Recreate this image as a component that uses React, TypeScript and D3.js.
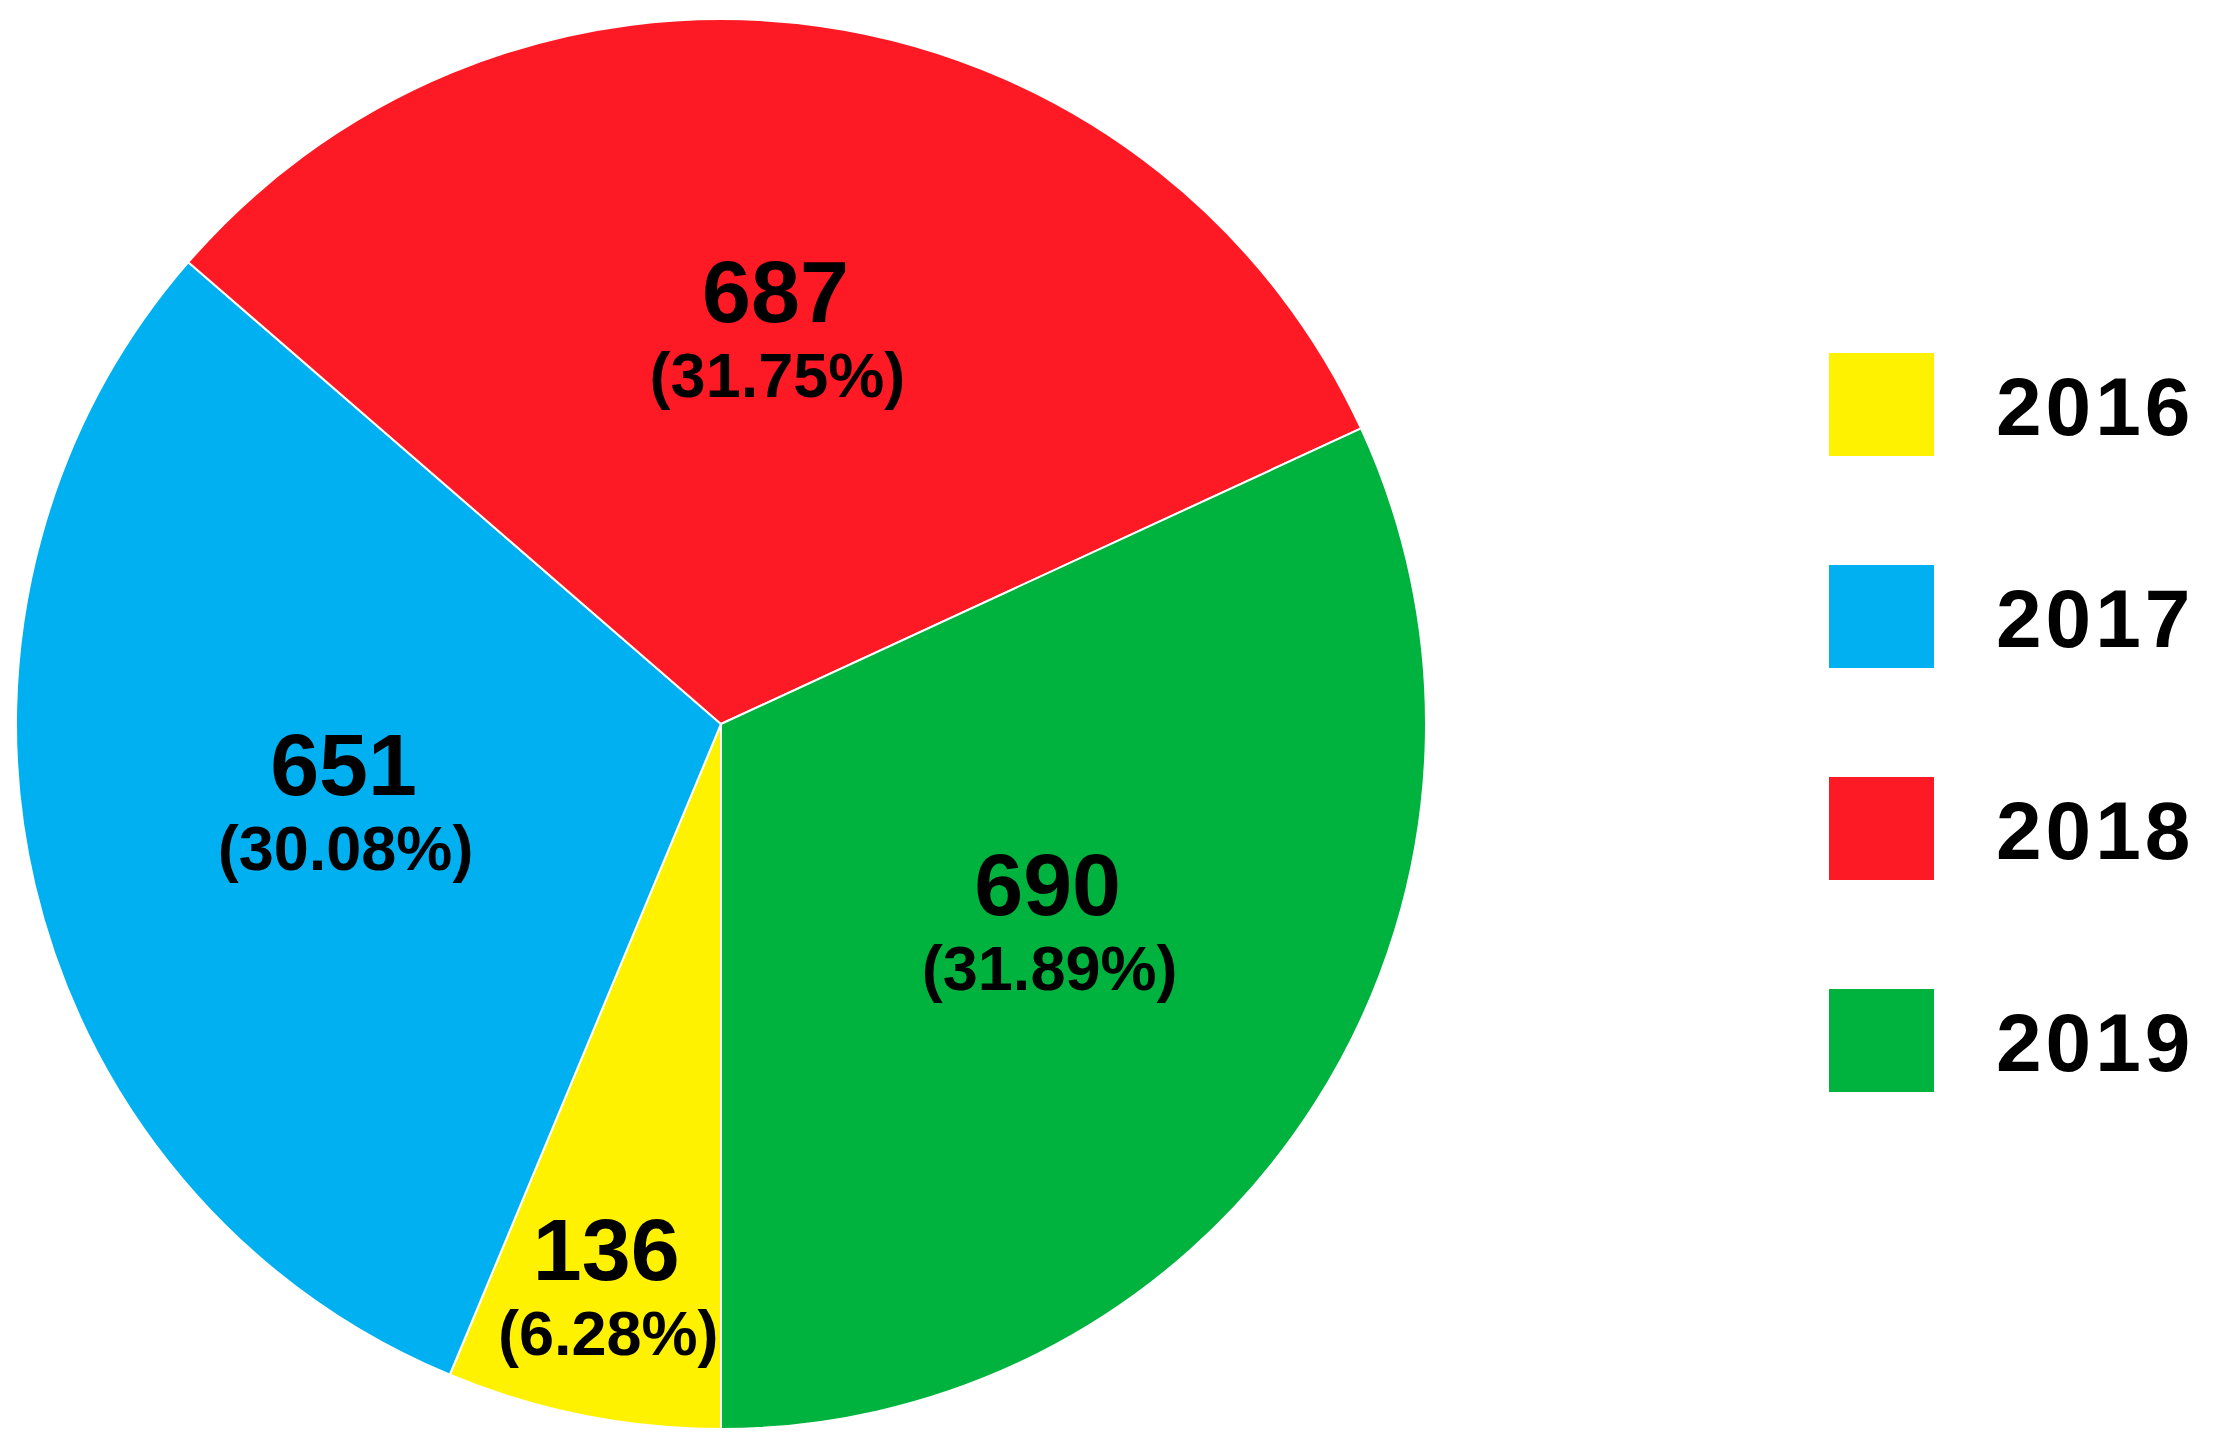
import { useMemo } from "react";
import * as d3 from "d3";

// values
const years = ["2016", "2017", "2018", "2019"];
const counts = [136, 651, 687, 690];
const percents = ["6.28%", "30.08%", "31.75%", "31.89%"];
const colors = ["#FFF200", "#00B0F0", "#FE1A25", "#00B33E"];

const WIDTH = 2215;
const HEIGHT = 1455;

export default function App() {
  const cx = 721;
  const cy = 724;
  const radius = 705;

  const slices = useMemo(() => {
    // Excel-style: first slice starts at 6 o'clock and runs clockwise
    const pie = d3
      .pie<number>()
      .sort(null)
      .startAngle(Math.PI)
      .endAngle(Math.PI * 3);
    return pie(counts);
  }, []);

  const arc = d3.arc<d3.PieArcDatum<number>>().innerRadius(0).outerRadius(radius);

  // labels sit inside the slice, thin slices get pushed outward
  const labelPos = (d: d3.PieArcDatum<number>) => {
    const span = d.endAngle - d.startAngle;
    const r = span < 0.6 ? radius * 0.83 : radius * 0.55;
    const a = (d.startAngle + d.endAngle) / 2;
    return [r * Math.sin(a), -r * Math.cos(a)];
  };

  const legendY = d3
    .scalePoint<string>()
    .domain(years)
    .range([404, 1040]);

  const font = "'Liberation Sans', Arial, sans-serif";

  return (
    <div style={{ position: "absolute", left: 0, top: 0, background: "#fff" }}>
      <svg width={WIDTH} height={HEIGHT} style={{ display: "block" }}>
        <rect width={WIDTH} height={HEIGHT} fill="#fff" />
        <g transform={`translate(${cx},${cy})`}>
          {slices.map((d, i) => (
            <path
              key={years[i]}
              d={arc(d) || ""}
              fill={colors[i]}
              stroke="#fff"
              strokeWidth={2}
              strokeLinejoin="round"
            />
          ))}
          {slices.map((d, i) => {
            const [x, y] = labelPos(d);
            return (
              <g key={"lbl" + i} fontFamily={font} fontWeight="bold" textAnchor="middle" fill="#000">
                <text x={x} y={y - 18} fontSize={88}>
                  {counts[i]}
                </text>
                <text x={x + 2} y={y + 57} fontSize={63}>
                  ({percents[i]})
                </text>
              </g>
            );
          })}
        </g>

        <g fontFamily={font} fontWeight="bold">
          {years.map((yr, i) => {
            const y = legendY(yr) as number;
            return (
              <g key={"leg" + yr}>
                <rect x={1829} y={y - 51} width={105} height={103} fill={colors[i]} />
                <text x={1996} y={y + 31} fontSize={82} letterSpacing={4} fill="#000">
                  {yr}
                </text>
              </g>
            );
          })}
        </g>
      </svg>
    </div>
  );
}
